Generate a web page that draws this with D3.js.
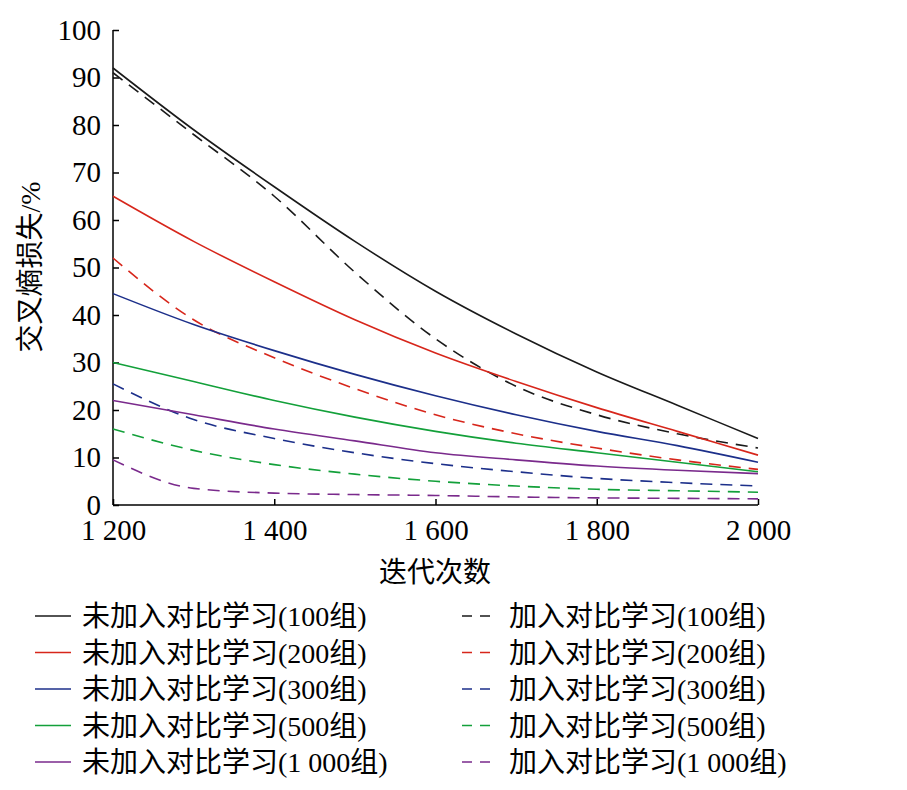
<!DOCTYPE html>
<html><head><meta charset="utf-8">
<script src="https://cdn.jsdelivr.net/npm/d3@7"></script>
<style>body{margin:0;background:#fff}</style>
</head><body>
<svg id="chart" width="907" height="790"></svg>
<script>
// iterations sampled every 100
var iterations = [1200, 1300, 1400, 1500, 1600, 1700, 1800, 1900, 2000];
var xTicks = [1200, 1400, 1600, 1800, 2000];
var yTicks = [0, 10, 20, 30, 40, 50, 60, 70, 80, 90, 100];

var base100 = [92, 79, 67, 55.5, 45, 36, 28, 21, 14];
var base200 = [65, 55.5, 47, 39, 32, 26, 20.5, 15.5, 10.5];
var base300 = [44.5, 38, 32.5, 27.5, 23, 19, 15.5, 12.5, 9];
var base500 = [30, 26, 22, 18.5, 15.5, 13, 11, 9, 7];
var base1000 = [22, 19, 16, 13.5, 11, 9.5, 8.2, 7.3, 6.6];
var cl100 = [91, 78, 65, 49, 35, 25, 19, 15, 12];
var cl200 = [52, 39, 31, 24.5, 19, 15, 12, 9.5, 7.5];
var cl300 = [25.5, 18, 14, 11, 8.7, 7, 5.6, 4.7, 4];
var cl500 = [16, 11.5, 8.5, 6.5, 5, 4, 3.3, 3, 2.7];
var cl1000 = [9.5, 3.5, 2.5, 2.2, 2, 1.7, 1.5, 1.4, 1.3];

var series = [
  {name: "未加入对比学习(100组)", values: base100, color: "#1a1a1a", dash: null},
  {name: "加入对比学习(100组)", values: cl100, color: "#1a1a1a", dash: "12,8"},
  {name: "未加入对比学习(200组)", values: base200, color: "#d7261b", dash: null},
  {name: "加入对比学习(200组)", values: cl200, color: "#d7261b", dash: "12,8"},
  {name: "未加入对比学习(300组)", values: base300, color: "#1c2f8a", dash: null},
  {name: "加入对比学习(300组)", values: cl300, color: "#1c2f8a", dash: "12,8"},
  {name: "未加入对比学习(500组)", values: base500, color: "#13a03a", dash: null},
  {name: "加入对比学习(500组)", values: cl500, color: "#13a03a", dash: "12,8"},
  {name: "未加入对比学习(1 000组)", values: base1000, color: "#7a2a8c", dash: null},
  {name: "加入对比学习(1 000组)", values: cl1000, color: "#7a2a8c", dash: "12,8"}
];

var svg = d3.select("#chart");
var font = "'Liberation Serif','Noto Sans CJK SC',serif";
var x = d3.scaleLinear().domain([1200, 2000]).range([113, 758]);
var y = d3.scaleLinear().domain([0, 100]).range([505, 30]);

var fmt = function(d){ return d >= 1000 ? Math.floor(d/1000) + " " + String(d%1000).padStart(3,"0") : d; };

var xAxis = svg.append("g").attr("transform", "translate(0,505)")
  .call(d3.axisBottom(x).tickValues(xTicks).tickSize(-6).tickPadding(14).tickFormat(fmt));
var yAxis = svg.append("g").attr("transform", "translate(113,0)")
  .call(d3.axisLeft(y).tickValues(yTicks).tickSize(-6).tickPadding(12));
[xAxis, yAxis].forEach(function(g){
  g.selectAll("path,line").attr("stroke", "#000").attr("stroke-width", 1.5);
  g.selectAll("text").attr("font-family", font).attr("font-size", 29).attr("fill", "#000");
});
xAxis.select(".domain").attr("d", "M113,0H758");
yAxis.select(".domain").attr("d", "M0,30V505");

var line = d3.line()
  .x(function(d, i){ return x(iterations[i]); })
  .y(function(d){ return y(d); })
  .curve(d3.curveMonotoneX);

series.forEach(function(s){
  svg.append("path").attr("d", line(s.values)).attr("fill", "none")
    .attr("stroke", s.color).attr("stroke-width", 1.6)
    .attr("stroke-dasharray", s.dash);
});

svg.append("text").attr("x", 435).attr("y", 582).attr("text-anchor", "middle")
  .attr("font-family", font).attr("font-size", 28).text("迭代次数");
svg.append("text").attr("transform", "translate(40,267) rotate(-90)").attr("text-anchor", "middle")
  .attr("font-family", font).attr("font-size", 28).text("交叉熵损失/%");

// legend, two columns
series.forEach(function(s, i){
  var col = i % 2, row = Math.floor(i / 2);
  var lx = col ? 462 : 35, ly = 616 + row * 36.5;
  svg.append("line").attr("x1", lx).attr("x2", lx + 36).attr("y1", ly).attr("y2", ly)
    .attr("stroke", s.color).attr("stroke-width", 1.6).attr("stroke-dasharray", s.dash ? "10,8" : null);
  svg.append("text").attr("x", lx + 47).attr("y", ly + 10).attr("font-family", font)
    .attr("font-size", 28).text(s.name);
});
</script>
</body></html>
